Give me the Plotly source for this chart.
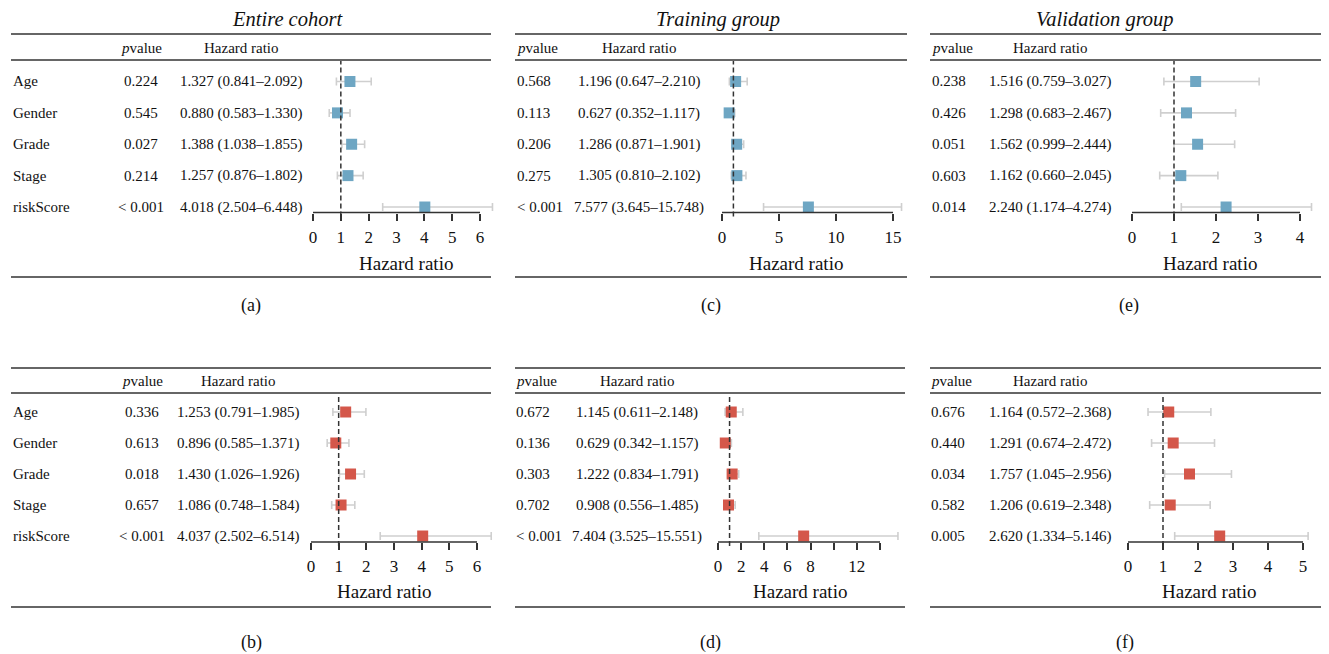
import plotly.graph_objects as go

# The page body keeps the browser's default 8px margin, so the figure is
# drawn 8px smaller and all reference pixel positions are shifted by 8px.
OFF = 8
W, H = 1329 - OFF, 654 - OFF
FONT = "Liberation Serif"

variables = ["Age", "Gender", "Grade", "Stage", "riskScore"]

# (a) Entire cohort, blue
a_p = ["0.224", "0.545", "0.027", "0.214", "< 0.001"]
a_hr = [1.327, 0.880, 1.388, 1.257, 4.018]
a_lo = [0.841, 0.583, 1.038, 0.876, 2.504]
a_hi = [2.092, 1.330, 1.855, 1.802, 6.448]
a_ticks = [0, 1, 2, 3, 4, 5, 6]
a_ticktext = ["0", "1", "2", "3", "4", "5", "6"]

# (b) Entire cohort, red
b_p = ["0.336", "0.613", "0.018", "0.657", "< 0.001"]
b_hr = [1.253, 0.896, 1.430, 1.086, 4.037]
b_lo = [0.791, 0.585, 1.026, 0.748, 2.502]
b_hi = [1.985, 1.371, 1.926, 1.584, 6.514]
b_ticks = [0, 1, 2, 3, 4, 5, 6]
b_ticktext = ["0", "1", "2", "3", "4", "5", "6"]

# (c) Training group, blue
c_p = ["0.568", "0.113", "0.206", "0.275", "< 0.001"]
c_hr = [1.196, 0.627, 1.286, 1.305, 7.577]
c_lo = [0.647, 0.352, 0.871, 0.810, 3.645]
c_hi = [2.210, 1.117, 1.901, 2.102, 15.748]
c_ticks = [0, 5, 10, 15]
c_ticktext = ["0", "5", "10", "15"]

# (d) Training group, red
d_p = ["0.672", "0.136", "0.303", "0.702", "< 0.001"]
d_hr = [1.145, 0.629, 1.222, 0.908, 7.404]
d_lo = [0.611, 0.342, 0.834, 0.556, 3.525]
d_hi = [2.148, 1.157, 1.791, 1.485, 15.551]
d_ticks = [0, 2, 4, 6, 8, 10, 12, 14]
d_ticktext = ["0", "2", "4", "6", "8", "", "12", ""]

# (e) Validation group, blue
e_p = ["0.238", "0.426", "0.051", "0.603", "0.014"]
e_hr = [1.516, 1.298, 1.562, 1.162, 2.240]
e_lo = [0.759, 0.683, 0.999, 0.660, 1.174]
e_hi = [3.027, 2.467, 2.444, 2.045, 4.274]
e_ticks = [0, 1, 2, 3, 4]
e_ticktext = ["0", "1", "2", "3", "4"]

# (f) Validation group, red
f_p = ["0.676", "0.440", "0.034", "0.582", "0.005"]
f_hr = [1.164, 1.291, 1.757, 1.206, 2.620]
f_lo = [0.572, 0.674, 1.045, 0.619, 1.334]
f_hi = [2.368, 2.472, 2.956, 2.348, 5.146]
f_ticks = [0, 1, 2, 3, 4, 5]
f_ticktext = ["0", "1", "2", "3", "4", "5"]

titles = ["Entire cohort", "Training group", "Validation group"]
panel_labels = ["(a)", "(b)", "(c)", "(d)", "(e)", "(f)"]

BLUE = "#6ea6c3"
RED = "#d4574a"
ERR = "#cfcfcf"
LINE = "#333333"
TXT = "#111111"

# geometry (reference pixels)
ROWG = [
    dict(top=34, head=60, head_txt=47.5, rows=[81.5, 113, 144, 175.5, 207], axis=212.5,
         xtitle=263, bottom=277, label=305, title=19.5),
    dict(top=368, head=393, head_txt=381, rows=[412, 443, 474, 505, 536], axis=542,
         xtitle=591, bottom=607, label=642, title=None),
]

panels = [
    dict(p=a_p, hr=a_hr, lo=a_lo, hi=a_hi, ticks=a_ticks, tt=a_ticktext, color=BLUE, r=0,
         lx=11, rx=491, names=True, pc=141, palign="center", hc=241, x0=313, unit=(480 - 313) / 6,
         xmax=500, xt=406, tc=287, lc=251),
    dict(p=b_p, hr=b_hr, lo=b_lo, hi=b_hi, ticks=b_ticks, tt=b_ticktext, color=RED, r=1,
         lx=11, rx=491, names=True, pc=142, palign="center", hc=238, x0=311, unit=(477 - 311) / 6,
         xmax=500, xt=384, tc=None, lc=251),
    dict(p=c_p, hr=c_hr, lo=c_lo, hi=c_hi, ticks=c_ticks, tt=c_ticktext, color=BLUE, r=0,
         lx=515, rx=907, names=False, pc=515, palign="left", hc=639, x0=722, unit=(893 - 722) / 15,
         xmax=910, xt=796, tc=718, lc=711),
    dict(p=d_p, hr=d_hr, lo=d_lo, hi=d_hi, ticks=d_ticks, tt=d_ticktext, color=RED, r=1,
         lx=515, rx=905, names=False, pc=514, palign="left", hc=637, x0=718, unit=(880 - 718) / 14,
         xmax=910, xt=800, tc=None, lc=710),
    dict(p=e_p, hr=e_hr, lo=e_lo, hi=e_hi, ticks=e_ticks, tt=e_ticktext, color=BLUE, r=0,
         lx=930, rx=1329, names=False, pc=930, palign="left", hc=1050, x0=1132, unit=(1300 - 1132) / 4,
         xmax=1329, xt=1210, tc=1105, lc=1129),
    dict(p=f_p, hr=f_hr, lo=f_lo, hi=f_hi, ticks=f_ticks, tt=f_ticktext, color=RED, r=1,
         lx=930, rx=1329, names=False, pc=929, palign="left", hc=1050, x0=1128, unit=(1303 - 1128) / 5,
         xmax=1329, xt=1209, tc=None, lc=1125),
]

def px(x):
    return (x - OFF) / W

def py(y):
    return 1 - (y - OFF) / H

fig = go.Figure()
shapes = []
ann = []
layout = {}

BODY = 15
for i, pn in enumerate(panels):
    k = i + 1
    g = ROWG[pn["r"]]
    xa = "x" if k == 1 else f"x{k}"
    ya = "y" if k == 1 else f"y{k}"
    rows = g["rows"]
    s = (rows[-1] - rows[0]) / 4.0
    yvals = [5, 4, 3, 2, 1]
    ytop = 5 + (rows[0] - g["head"]) / s
    ybot = 1 - (g["axis"] - rows[-1]) / s
    xmin = -6 / pn["unit"]
    xmax = (pn["xmax"] - pn["x0"]) / pn["unit"]
    dom_x = [px(pn["x0"] - 6), min(1.0, px(pn["xmax"]))]
    dom_y = [py(g["axis"]), py(g["head"])]

    err_plus = [h - m for m, h in zip(pn["hr"], pn["hi"])]
    err_minus = [m - l for m, l in zip(pn["hr"], pn["lo"])]
    fig.add_trace(go.Scatter(
        x=pn["hr"], y=yvals, xaxis=xa, yaxis=ya, mode="markers",
        marker=dict(symbol="square", size=11, color=pn["color"], line=dict(width=0)),
        error_x=dict(type="data", array=err_plus, arrayminus=err_minus, symmetric=False,
                     color=ERR, thickness=1.6, width=4),
        cliponaxis=False, showlegend=False, hoverinfo="skip"))

    layout[("xaxis" if k == 1 else f"xaxis{k}")] = dict(
        domain=dom_x, range=[xmin, xmax], anchor=ya, showgrid=False, zeroline=False,
        showline=False, ticks="outside", ticklen=7, tickwidth=1.5, tickcolor=LINE,
        tickvals=pn["ticks"], ticktext=pn["tt"], ticklabelstandoff=2,
        tickfont=dict(family=FONT, size=17, color=TXT), fixedrange=True)
    layout[("yaxis" if k == 1 else f"yaxis{k}")] = dict(
        domain=dom_y, range=[ybot, ytop], anchor=xa, visible=False, fixedrange=True)

    # axis baseline
    shapes.append(dict(type="line", xref=xa, yref="paper", x0=pn["ticks"][0], x1=pn["ticks"][-1],
                       y0=py(g["axis"]), y1=py(g["axis"]), line=dict(color=LINE, width=1.5)))
    # reference line at HR=1
    shapes.append(dict(type="line", xref=xa, yref="paper", x0=1, x1=1,
                       y0=py(g["axis"] + 4), y1=py(g["head"] + 1),
                       line=dict(color=LINE, width=1.5, dash="5px,3px")))
    # table rules
    for yy in (g["top"], g["head"], g["bottom"]):
        shapes.append(dict(type="line", xref="paper", yref="paper", x0=px(pn["lx"]),
                           x1=min(1.0, px(pn["rx"])),
                           y0=py(yy), y1=py(yy), line=dict(color=LINE, width=1.5)))

    tf = dict(family=FONT, size=BODY, color=TXT)
    # headers
    ann.append(dict(text="<i>p</i>value", x=px(pn["pc"]), y=py(g["head_txt"]),
                    xanchor=pn["palign"], yanchor="middle", font=tf))
    ann.append(dict(text="Hazard ratio", x=px(pn["hc"]), y=py(g["head_txt"]),
                    xanchor="center", yanchor="middle", font=tf))
    for j in range(5):
        if pn["names"]:
            ann.append(dict(text=variables[j], x=px(pn["lx"]), y=py(rows[j]),
                            xanchor="left", yanchor="middle", font=tf))
        ann.append(dict(text=pn["p"][j], x=px(pn["pc"]), y=py(rows[j]),
                        xanchor=pn["palign"], yanchor="middle", font=tf))
        txt = f"{pn['hr'][j]:.3f} ({pn['lo'][j]:.3f}\u2013{pn['hi'][j]:.3f})"
        ann.append(dict(text=txt, x=px(pn["hc"]), y=py(rows[j]),
                        xanchor="center", yanchor="middle", font=tf))
    # axis title
    ann.append(dict(text="Hazard ratio", x=px(pn["xt"]), y=py(g["xtitle"]),
                    xanchor="center", yanchor="middle",
                    font=dict(family=FONT, size=19, color=TXT)))
    # panel label
    ann.append(dict(text=panel_labels[i], x=px(pn["lc"]), y=py(g["label"]),
                    xanchor="center", yanchor="middle",
                    font=dict(family=FONT, size=18, color=TXT)))
    if pn["tc"] is not None:
        ann.append(dict(text=f"<i>{titles[i // 2]}</i>", x=px(pn["tc"]), y=py(g["title"]),
                        xanchor="center", yanchor="middle", borderpad=0,
                        font=dict(family=FONT, size=20.5, color=TXT)))

for a in ann:
    a.update(xref="paper", yref="paper", showarrow=False)

fig.update_layout(
    width=W, height=H, margin=dict(l=0, r=0, t=0, b=0),
    paper_bgcolor="white", plot_bgcolor="rgba(0,0,0,0)",
    shapes=shapes, annotations=ann, **layout)

fig.write_html("out.html", include_plotlyjs=True, full_html=True,
               config=dict(displayModeBar=False, responsive=False))
